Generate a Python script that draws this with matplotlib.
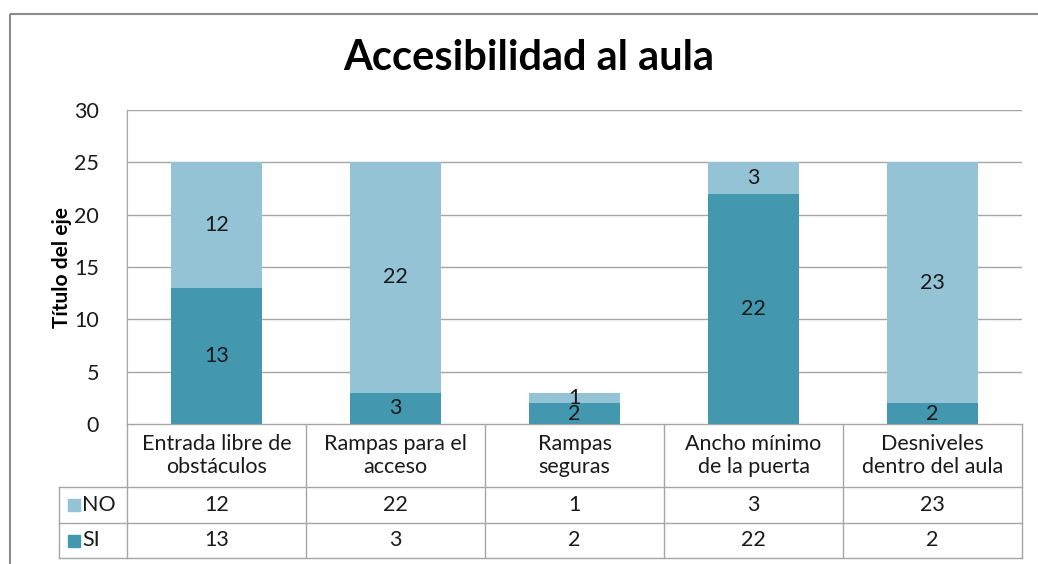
import matplotlib
matplotlib.use("Agg")
import matplotlib.pyplot as plt
from matplotlib.patches import Rectangle

categories = ["Entrada libre de\nobstáculos", "Rampas para el\nacceso", "Rampas\nseguras",
              "Ancho mínimo\nde la puerta", "Desniveles\ndentro del aula"]
si_vals = [13, 3, 2, 22, 2]
no_vals = [12, 22, 1, 3, 23]
series_names = ["NO", "SI"]
yticks = [0, 5, 10, 15, 20, 25, 30]

c_no = "#93c3d4"
c_si = "#4397af"
grid_c = "#a6a6a6"
txt_c = "#1a1a1a"
fs = 15.5
plt.rcParams["font.family"] = ["Lato", "DejaVu Sans"]

W, H = 1038, 564
fig = plt.figure(figsize=(W / 100, H / 100), dpi=100)

# pixel overlay for frame and table
over = fig.add_axes([0, 0, 1, 1])
over.set_xlim(0, W)
over.set_ylim(H, 0)
over.axis("off")
over.add_patch(Rectangle((10, 14), 1100, 600, fill=False, ec="#8c8c8c", lw=1.5))

# main plot
x0, x1, ytop, ybot = 127, 1022, 110, 424
ax = fig.add_axes([x0 / W, 1 - ybot / H, (x1 - x0) / W, (ybot - ytop) / H])
xs = range(len(categories))
bw = 0.51
ax.bar(xs, si_vals, bw, color=c_si, zorder=3)
ax.bar(xs, no_vals, bw, bottom=si_vals, color=c_no, zorder=3)
for i in xs:
    ax.text(i, si_vals[i] / 2, str(si_vals[i]), ha="center", va="center", fontsize=fs, color=txt_c, zorder=4)
    ax.text(i, si_vals[i] + no_vals[i] / 2, str(no_vals[i]), ha="center", va="center", fontsize=fs, color=txt_c, zorder=4)
ax.set_xlim(-0.5, len(categories) - 0.5)
ax.set_ylim(0, 30)
ax.set_yticks(yticks)
ax.set_xticks([])
ax.yaxis.grid(True, color=grid_c, lw=1, zorder=0)
ax.tick_params(axis="y", length=0, labelsize=fs, pad=20, labelcolor=txt_c)
for s in ["top", "right", "bottom"]:
    ax.spines[s].set_visible(False)
ax.spines["left"].set_color(grid_c)
ax.set_ylabel("Título del eje", fontsize=15, fontweight="bold", labelpad=2)
fig.text(529 / W, 1 - 58 / H, "Accesibilidad al aula", ha="center", va="center",
         fontsize=30, fontweight="bold")

# data table
col_w = (x1 - x0) / len(categories)
rows_y = [424, 487, 523, 558]
lab_x = 59
for y in rows_y[1:]:
    over.plot([lab_x, x1], [y, y], color=grid_c, lw=1)
over.plot([x0, x1], [rows_y[0], rows_y[0]], color=grid_c, lw=1)
for k in range(len(categories) + 1):
    over.plot([x0 + k * col_w] * 2, [rows_y[0], rows_y[-1]], color=grid_c, lw=1)
over.plot([x0, x0], [ytop, rows_y[0]], color=grid_c, lw=1)
over.plot([lab_x, lab_x], [rows_y[1], rows_y[-1]], color=grid_c, lw=1)

for i, cat in enumerate(categories):
    cx = x0 + (i + 0.5) * col_w
    over.text(cx, (rows_y[0] + rows_y[1]) / 2, cat, ha="center", va="center", fontsize=fs,
              color=txt_c, linespacing=1.2)
    over.text(cx, (rows_y[1] + rows_y[2]) / 2, str(no_vals[i]), ha="center", va="center",
              fontsize=fs, color=txt_c)
    over.text(cx, (rows_y[2] + rows_y[3]) / 2, str(si_vals[i]), ha="center", va="center",
              fontsize=fs, color=txt_c)

for r, (name, col) in enumerate(zip(series_names, [c_no, c_si])):
    cy = (rows_y[r + 1] + rows_y[r + 2]) / 2
    over.add_patch(Rectangle((68, cy - 6), 12, 12, color=col))
    over.text(82, cy, name, ha="left", va="center", fontsize=fs, color=txt_c)

fig.savefig("out.png", dpi=100)
